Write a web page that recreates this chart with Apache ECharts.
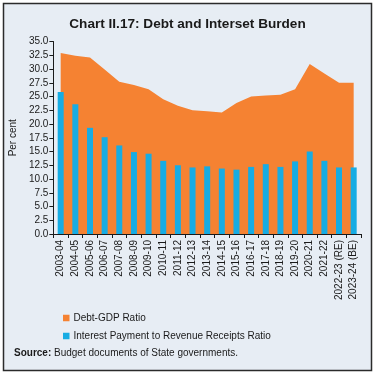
<!DOCTYPE html>
<html>
<head>
<meta charset="utf-8">
<script src="https://cdn.jsdelivr.net/npm/echarts@6/dist/echarts.min.js"></script>
<style>
  html, body { margin: 0; padding: 0; background: #fff; }
  #chart { width: 375px; height: 377px; }
</style>
</head>
<body>
<div id="chart"></div>
<script>
  // years on the x axis
  var years = ['2003-04', '2004-05', '2005-06', '2006-07', '2007-08', '2008-09', '2009-10',
    '2010-11', '2011-12', '2012-13', '2013-14', '2014-15', '2015-16', '2016-17', '2017-18',
    '2018-19', '2019-20', '2020-21', '2021-22', '2022-23 (RE)', '2023-24 (BE)']
  // Debt-GDP ratio (area)
  var debtGdp = [32.9, 32.4, 32.1, 29.9, 27.7, 27.1, 26.3, 24.5, 23.3, 22.5, 22.3, 22.1,
    23.8, 25.0, 25.2, 25.3, 26.3, 30.9, 29.2, 27.5, 27.5]
  // interest payment to revenue receipts ratio (bars)
  var ipRr = [25.8, 23.6, 19.3, 17.6, 16.1, 14.9, 14.6, 13.3, 12.5, 12.1, 12.3, 11.9,
    11.7, 12.2, 12.7, 12.2, 13.2, 15.0, 13.3, 12.1, 12.1]

  var font = 'Liberation Sans, Arial, sans-serif'
  var orange = '#f58232'
  var blue = '#17ace3'

  var chart = echarts.init(document.getElementById('chart'))
  chart.setOption({
    backgroundColor: '#fff',
    animation: false,
    textStyle: { fontFamily: font },
    title: {
      text: 'Chart II.17: Debt and Interset Burden',
      left: 'center',
      top: 12,
      textStyle: { fontSize: 13.6, fontWeight: 'bold', color: '#1a1a1a', fontFamily: font }
    },
    graphic: [
      {
        type: 'rect',
        z: -10,
        silent: true,
        shape: { x: 3.5, y: 3.5, width: 368, height: 367 },
        style: { fill: '#e7edf4', stroke: '#2b2b2b', lineWidth: 1.5 }
      },
      {
        type: 'text',
        left: 14,
        top: 348,
        style: {
          text: '{b|Source:} Budget documents of State governments.',
          fontSize: 10,
          fontFamily: font,
          fill: '#1a1a1a',
          rich: { b: { fontWeight: 'bold', fontSize: 10, fontFamily: font, fill: '#1a1a1a' } }
        }
      }
    ],
    legend: {
      orient: 'vertical',
      left: 63,
      top: 313,
      padding: 0,
      itemWidth: 6.5,
      itemHeight: 6.5,
      itemGap: 8,
      icon: 'rect',
      data: ['Debt-GDP Ratio', 'Interest Payment to Revenue Receipts Ratio'],
      textStyle: { fontSize: 10, color: '#1a1a1a', fontFamily: font, padding: [0, 0, 0, -1] }
    },
    grid: {
      left: 53,
      right: 14,
      top: 41.5,
      bottom: 143
    },
    xAxis: {
      type: 'category',
      data: years,
      boundaryGap: true,
      axisLine: { lineStyle: { color: '#1a1a1a', width: 1 } },
      axisTick: { show: true, length: 4, lineStyle: { color: '#1a1a1a' } },
      axisLabel: { rotate: 90, interval: 0, fontSize: 10, color: '#1a1a1a', margin: 6 }
    },
    yAxis: {
      type: 'value',
      min: 0,
      max: 35,
      interval: 2.5,
      name: 'Per cent',
      nameLocation: 'middle',
      nameGap: 29,
      nameTextStyle: { fontSize: 10, color: '#1a1a1a' },
      axisLine: { show: true, lineStyle: { color: '#1a1a1a', width: 1 } },
      axisTick: { show: true, length: 4, lineStyle: { color: '#1a1a1a' } },
      splitLine: { show: false },
      axisLabel: {
        fontSize: 10,
        color: '#1a1a1a',
        margin: 5,
        formatter: function (v) { return v.toFixed(1) }
      }
    },
    series: [
      {
        name: 'Debt-GDP Ratio',
        type: 'line',
        data: debtGdp,
        symbol: 'none',
        z: 1,
        itemStyle: { color: orange },
        lineStyle: { width: 0, color: orange },
        areaStyle: { color: orange, opacity: 1 }
      },
      {
        name: 'Interest Payment to Revenue Receipts Ratio',
        type: 'bar',
        data: ipRr,
        barWidth: 6,
        z: 3,
        itemStyle: { color: blue }
      }
    ]
  })
</script>
</body>
</html>
